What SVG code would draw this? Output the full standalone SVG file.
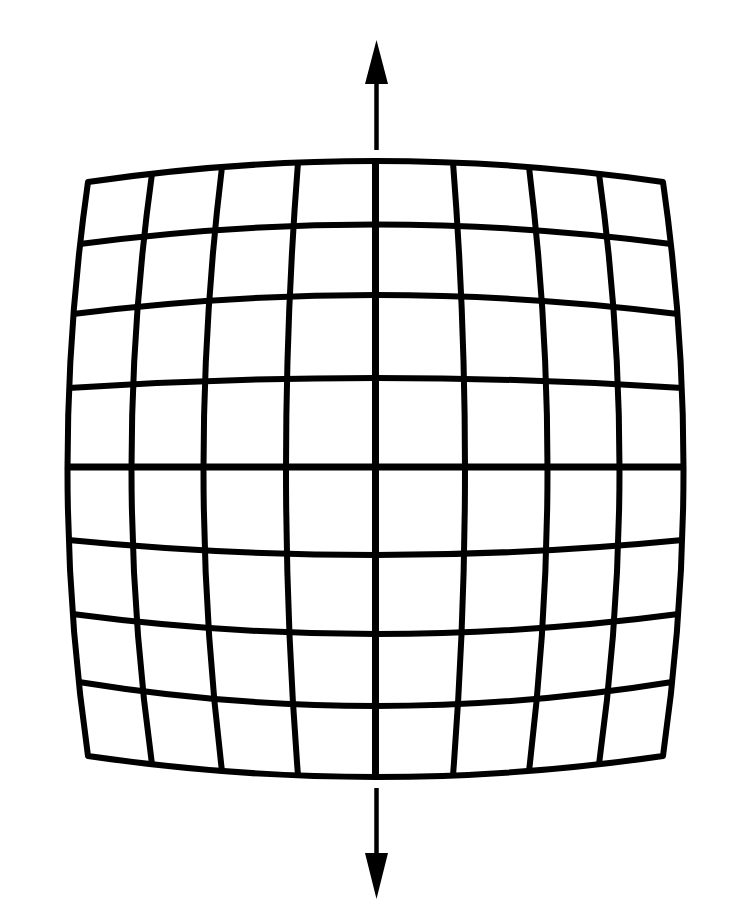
<svg xmlns="http://www.w3.org/2000/svg" width="756" height="908" viewBox="0 0 756 908">
<style>
.g{fill:none;stroke:#000;stroke-width:6;stroke-linejoin:round;stroke-linecap:butt}
.c{fill:none;stroke:#000;stroke-width:7}
.s{stroke:#000;stroke-width:4.5;fill:none}
.h{fill:#000;stroke:none}
</style>
<rect width="756" height="908" fill="#fff"/>
<g id="grid">
<path class="g" d="M88,182 Q375.5,140 663,182 Q704,469 663,756 Q375.5,798 88,756 Q47,469 88,182 Z"/>
<path class="g" d="M152,173.7 Q111,469 152,764.3"/>
<path class="g" d="M222,167 Q185,469 222,771"/>
<path class="g" d="M298,162.5 Q274,469 298,775.5"/>
<path class="c" d="M375.5,161 L375.5,777"/>
<path class="g" d="M453,162.5 Q477,469 453,775.5"/>
<path class="g" d="M529,167 Q566,469 529,771"/>
<path class="g" d="M599,173.7 Q640,469 599,764.3"/>
<path class="g" d="M79.9,244 Q375.5,205 671.1,244"/>
<path class="g" d="M73.1,314 Q375.5,276 677.9,314"/>
<path class="g" d="M68.6,388 Q375.5,368 682.4,388"/>
<path class="c" d="M67,467 L684,467"/>
<path class="g" d="M68.3,540 Q375.5,570 682.7,540"/>
<path class="g" d="M72.5,614 Q375.5,654 678.5,614"/>
<path class="g" d="M78.8,682 Q375.5,730 672.2,682"/>
</g>
<g id="arrows">
<g id="arrow-up">
<line class="s" x1="376.5" y1="150" x2="376.5" y2="80"/>
<polygon class="h" points="376.5,40 365,84 388,84"/>
</g>
<g id="arrow-down">
<line class="s" x1="376.5" y1="788" x2="376.5" y2="856"/>
<polygon class="h" points="365,853 388,853 376.5,899"/>
</g>
</g>
</svg>
